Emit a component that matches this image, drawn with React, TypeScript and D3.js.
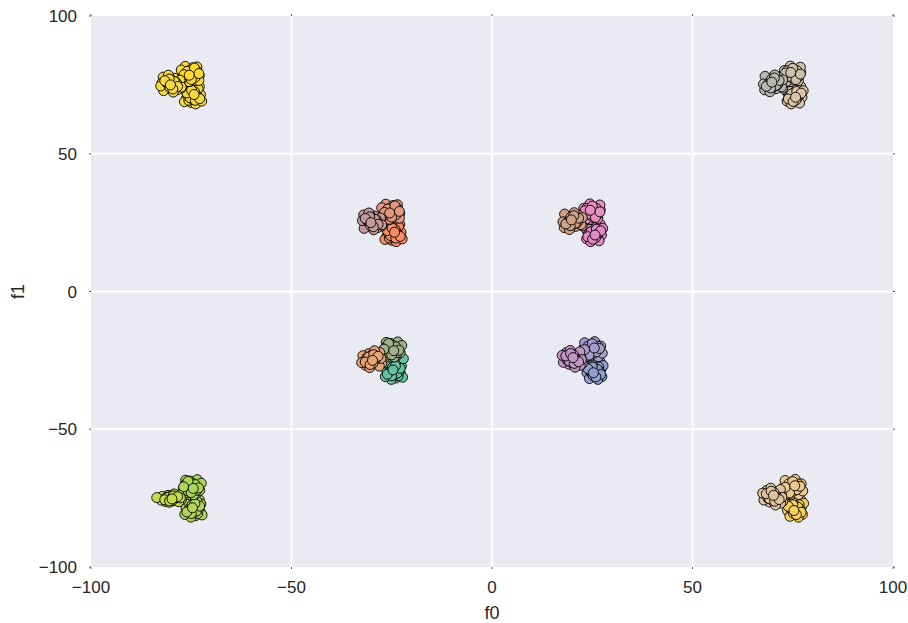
import React from "react";
import * as d3 from "d3";

type Pt = [number, number];

// Cluster (-25,-25)
const g0: Pt[] = [[-24.2,-26.0],[-25.6,-26.5],[-23.0,-25.6],
  [-24.5,-29.0],[-23.1,-27.8],[-25.8,-30.1],[-25.2,-27.2],[-22.8,-29.9],[-26.3,-28.5],[-24.0,-31.4],[-25.1,-31.9],[-22.6,-27.1],[-25.7,-26.4],[-23.6,-26.1],[-22.3,-31.1],[-26.6,-30.9],[-24.2,-28.1],[-24.9,-29.8],[-23.4,-30.6],[-22.1,-24.4],
  [-23.9,-28.4],[-25.4,-28.8],[-24.4,-30.3],[-23.2,-29.0],[-24.8,-27.5],[-25.6,-29.5],[-23.7,-29.7],[-25.0,-30.6],[-22.9,-27.9],[-26.1,-30.0],[-24.1,-27.0],[-24.7,-28.5]];
const g1: Pt[] = [[-25.4,-23.8],[-23.8,-23.4],[-26.8,-24.1],
  [-24.8,-20.7],[-26.5,-20.1],[-23.8,-22.4],[-24.2,-19.4],[-25.9,-22.7],[-23.2,-20.4],[-27.0,-21.6],[-25.3,-18.8],[-24.4,-23.8],[-22.9,-22.2],[-26.4,-18.5],[-23.5,-18.3],[-26.9,-23.4],[-25.0,-22.0],[-25.6,-19.9],[-22.5,-19.6],
  [-25.5,-20.6],[-24.1,-21.4],[-26.0,-22.2],[-24.7,-19.6],[-23.6,-22.1],[-26.4,-20.0],[-25.0,-23.0],[-24.0,-20.1],[-25.8,-18.9],[-23.2,-21.3],[-26.9,-20.9],[-24.5,-21.5]];
const g2: Pt[] = [[-27.8,-24.0],[-27.5,-26.2],
  [-30.1,-24.7],[-29.0,-23.0],[-31.7,-24.9],[-28.4,-25.3],[-30.8,-22.6],[-29.6,-26.4],[-31.5,-26.8],[-28.0,-22.2],[-32.2,-23.3],[-29.3,-21.5],[-28.1,-27.1],[-30.5,-27.6],[-27.7,-24.3],[-31.1,-23.9],[-29.1,-24.1],[-32.5,-25.8],
  [-30.6,-25.1],[-29.1,-24.7],[-30.1,-23.2],[-31.3,-24.5],[-29.7,-26.0],[-28.9,-24.0],[-30.8,-23.8],[-29.5,-22.9],[-31.6,-25.6],[-28.4,-23.5],[-30.4,-26.5],[-29.8,-25.0]];
// Cluster (-25,25)
const g3: Pt[] = [[-24.2,24.0],[-25.6,23.5],[-23.0,24.4],
  [-24.5,21.0],[-25.9,22.2],[-23.2,19.9],[-23.8,22.8],[-26.2,20.1],[-22.7,21.5],[-25.0,18.6],[-23.9,18.1],[-26.4,22.9],[-23.3,23.6],[-25.4,23.9],[-26.7,18.9],[-22.4,19.1],[-24.8,21.9],[-24.1,20.2],[-25.6,19.4],
  [-25.1,21.6],[-23.6,21.2],[-24.6,19.7],[-25.8,21.0],[-24.2,22.5],[-23.4,20.5],[-25.3,20.3],[-24.0,19.4],[-26.1,22.1],[-22.9,20.0],[-24.9,23.0],[-24.3,21.5]];
const g4: Pt[] = [[-25.4,26.2],[-23.8,26.6],[-26.8,25.9],
  [-25.2,29.3],[-23.5,29.9],[-26.2,27.6],[-25.8,30.6],[-24.1,27.3],[-26.8,29.6],[-23.0,28.4],[-24.7,31.2],[-25.6,26.2],[-27.1,27.8],[-23.6,31.5],[-26.5,31.7],[-23.1,26.6],[-25.0,28.0],[-24.4,30.1],[-27.5,30.4],
  [-24.5,29.4],[-25.9,28.6],[-24.0,27.8],[-25.3,30.4],[-26.4,27.9],[-23.6,30.0],[-25.0,27.0],[-26.0,29.9],[-24.2,31.1],[-26.8,28.7],[-23.1,29.1],[-25.5,28.5]];
const g5: Pt[] = [[-27.8,26.0],[-27.5,23.8],
  [-29.9,25.3],[-31.0,27.0],[-28.3,25.1],[-31.6,24.7],[-29.2,27.4],[-30.4,23.6],[-28.5,23.2],[-32.0,27.8],[-27.8,26.7],[-30.7,28.5],[-31.9,22.9],[-29.5,22.4],[-32.3,25.7],[-28.9,26.1],[-30.9,25.9],[-27.5,24.2],
  [-29.4,24.9],[-30.9,25.3],[-29.9,26.8],[-28.7,25.5],[-30.3,24.0],[-31.1,26.0],[-29.2,26.2],[-30.5,27.1],[-28.4,24.4],[-31.6,26.5],[-29.6,23.5],[-30.2,25.0]];
// Cluster (25,-25)
const g6: Pt[] = [[25.8,-26.0],[24.4,-26.5],[27.0,-25.6],
  [25.5,-29.0],[26.9,-30.2],[24.2,-27.9],[24.8,-30.8],[27.2,-28.1],[23.7,-29.5],[26.0,-26.6],[24.9,-26.1],[27.4,-30.9],[24.3,-31.6],[26.4,-31.9],[27.7,-26.9],[23.4,-27.1],[25.8,-29.9],[25.1,-28.2],[26.6,-27.4],
  [26.1,-29.6],[24.6,-29.2],[25.6,-27.7],[26.8,-29.0],[25.2,-30.5],[24.4,-28.5],[26.3,-28.3],[25.0,-27.4],[27.1,-30.1],[23.9,-28.0],[25.9,-31.0],[25.3,-29.5]];
const g7: Pt[] = [[24.6,-23.8],[26.2,-23.4],[23.2,-24.1],
  [25.2,-21.3],[23.5,-21.9],[26.2,-19.6],[25.8,-22.6],[24.1,-19.3],[26.8,-21.6],[23.0,-20.4],[24.7,-23.2],[25.6,-18.2],[27.1,-19.8],[23.6,-23.5],[26.5,-23.7],[23.1,-18.6],[25.0,-20.0],[24.4,-22.1],[27.5,-22.4],
  [24.5,-21.4],[25.9,-20.6],[24.0,-19.8],[25.3,-22.4],[26.4,-19.9],[23.6,-22.0],[25.0,-19.0],[26.0,-21.9],[24.2,-23.1],[26.8,-20.7],[23.1,-21.1],[25.5,-20.5]];
const g8: Pt[] = [[22.2,-24.0],[22.5,-26.2],
  [19.9,-24.3],[21.0,-26.0],[18.3,-24.1],[21.6,-23.7],[19.2,-26.4],[20.4,-22.6],[18.5,-22.2],[22.0,-26.8],[17.8,-25.7],[20.7,-27.5],[21.9,-21.9],[19.5,-21.4],[22.3,-24.7],[18.9,-25.1],[20.9,-24.9],[17.5,-23.2],
  [19.4,-23.9],[20.9,-24.3],[19.9,-25.8],[18.7,-24.5],[20.3,-23.0],[21.1,-25.0],[19.2,-25.2],[20.5,-26.1],[18.4,-23.4],[21.6,-25.5],[19.6,-22.5],[20.2,-24.0]];
// Cluster (25,25)
const g9: Pt[] = [[25.8,24.0],[24.4,23.5],[27.0,24.4],
  [25.5,21.0],[24.1,19.8],[26.8,22.1],[26.2,19.2],[23.8,21.9],[27.3,20.5],[25.0,23.4],[26.1,23.9],[23.6,19.1],[26.7,18.4],[24.6,18.1],[23.3,23.1],[27.6,22.9],[25.2,20.1],[25.9,21.8],[24.4,22.6],
  [24.9,20.4],[26.4,20.8],[25.4,22.3],[24.2,21.0],[25.8,19.5],[26.6,21.5],[24.7,21.7],[26.0,22.6],[23.9,19.9],[27.1,22.0],[25.1,19.0],[25.7,20.5]];
const g10: Pt[] = [[24.6,26.2],[26.2,26.6],[23.2,25.9],
  [24.8,28.7],[26.5,28.1],[23.8,30.4],[24.2,27.4],[25.9,30.7],[23.2,28.4],[27.0,29.6],[25.3,26.8],[24.4,31.8],[22.9,30.2],[26.4,26.5],[23.5,26.3],[26.9,31.4],[25.0,30.0],[25.6,27.9],[22.5,27.6],
  [25.5,28.6],[24.1,29.4],[26.0,30.2],[24.7,27.6],[23.6,30.1],[26.4,28.0],[25.0,31.0],[24.0,28.1],[25.8,26.9],[23.2,29.3],[26.9,28.9],[24.5,29.5]];
const g11: Pt[] = [[22.2,26.0],[22.5,23.8],
  [20.1,25.7],[19.0,24.0],[21.7,25.9],[18.4,26.3],[20.8,23.6],[19.6,27.4],[21.5,27.8],[18.0,23.2],[22.2,24.3],[19.3,22.5],[18.1,28.1],[20.5,28.6],[17.7,25.3],[21.1,24.9],[19.1,25.1],[22.5,26.8],
  [20.6,26.1],[19.1,25.7],[20.1,24.2],[21.3,25.5],[19.7,27.0],[18.9,25.0],[20.8,24.8],[19.5,23.9],[21.6,26.6],[18.4,24.5],[20.4,27.5],[19.8,26.0]];
// Cluster (-75,-75)
const g12: Pt[] = [[-74.2,-76.0],[-75.6,-76.5],[-73.0,-75.6],
  [-74.5,-79.0],[-73.1,-77.8],[-75.8,-80.1],[-75.2,-77.2],[-72.8,-79.9],[-76.3,-78.5],[-74.0,-81.4],[-75.1,-81.9],[-72.6,-77.1],[-75.7,-76.4],[-73.6,-76.1],[-72.3,-81.1],[-76.6,-80.9],[-74.2,-78.1],[-74.9,-79.8],[-73.4,-80.6],
  [-73.9,-78.4],[-75.4,-78.8],[-74.4,-80.3],[-73.2,-79.0],[-74.8,-77.5],[-75.6,-79.5],[-73.7,-79.7],[-75.0,-80.6],[-72.9,-77.9],[-76.1,-80.0],[-74.1,-77.0],[-74.7,-78.5]];
const g13: Pt[] = [[-75.4,-73.8],[-73.8,-73.4],[-76.8,-74.1],
  [-74.8,-70.7],[-76.5,-70.1],[-73.8,-72.4],[-74.2,-69.4],[-75.9,-72.7],[-73.2,-70.4],[-77.0,-71.6],[-75.3,-68.8],[-74.4,-73.8],[-72.9,-72.2],[-76.4,-68.5],[-73.5,-68.3],[-76.9,-73.4],[-75.0,-72.0],[-75.6,-69.9],[-72.5,-69.6],
  [-75.5,-70.6],[-74.1,-71.4],[-76.0,-72.2],[-74.7,-69.6],[-73.6,-72.1],[-76.4,-70.0],[-75.0,-73.0],[-74.0,-70.1],[-75.8,-68.9],[-73.2,-71.3],[-76.9,-70.9],[-74.5,-71.5]];
const g14: Pt[] = [[-77.8,-74.6],[-77.5,-75.6],
  [-80.1,-75.1],[-79.0,-74.2],[-81.7,-75.2],[-78.4,-75.4],[-80.8,-74.0],[-79.6,-76.0],[-81.5,-76.2],[-78.0,-73.9],[-82.2,-74.4],[-79.3,-73.5],[-78.1,-76.3],[-80.5,-76.5],[-77.7,-74.9],[-81.1,-74.7],[-79.1,-74.8],[-82.5,-75.7],[-83.6,-74.8],
  [-80.6,-75.3],[-79.1,-75.1],[-80.1,-74.4],[-81.3,-75.0],[-79.7,-75.8],[-78.9,-74.8],[-80.8,-74.7],[-79.5,-74.2],[-81.6,-75.6],[-78.4,-74.5],[-80.4,-76.0],[-79.8,-75.3]];
// Cluster (-75,75)
const g15: Pt[] = [[-74.2,74.0],[-75.6,73.5],[-73.0,74.4],
  [-74.5,71.0],[-75.9,72.2],[-73.2,69.9],[-73.8,72.8],[-76.2,70.1],[-72.7,71.5],[-75.0,68.6],[-73.9,68.1],[-76.4,72.9],[-73.3,73.6],[-75.4,73.9],[-76.7,68.9],[-72.4,69.1],[-74.8,71.9],[-74.1,70.2],[-75.6,69.4],
  [-75.1,71.6],[-73.6,71.2],[-74.6,69.7],[-75.8,71.0],[-74.2,72.5],[-73.4,70.5],[-75.3,70.3],[-74.0,69.4],[-76.1,72.1],[-72.9,70.0],[-74.9,73.0],[-74.3,71.5]];
const g16: Pt[] = [[-75.4,76.2],[-73.8,76.6],[-76.8,75.9],
  [-75.2,79.3],[-73.5,79.9],[-76.2,77.6],[-75.8,80.6],[-74.1,77.3],[-76.8,79.6],[-73.0,78.4],[-74.7,81.2],[-75.6,76.2],[-77.1,77.8],[-73.6,81.5],[-76.5,81.7],[-73.1,76.6],[-75.0,78.0],[-74.4,80.1],[-77.5,80.4],
  [-74.5,79.4],[-75.9,78.6],[-74.0,77.8],[-75.3,80.4],[-76.4,77.9],[-73.6,80.0],[-75.0,77.0],[-76.0,79.9],[-74.2,81.1],[-76.8,78.7],[-73.1,79.1],[-75.5,78.5]];
const g17: Pt[] = [[-77.8,76.0],[-77.5,73.8],
  [-79.9,75.3],[-81.0,77.0],[-78.3,75.1],[-81.6,74.7],[-79.2,77.4],[-80.4,73.6],[-78.5,73.2],[-82.0,77.8],[-77.8,76.7],[-80.7,78.5],[-81.9,72.9],[-79.5,72.4],[-82.3,75.7],[-78.9,76.1],[-80.9,75.9],[-77.5,74.2],[-82.6,74.6],
  [-79.4,74.9],[-80.9,75.3],[-79.9,76.8],[-78.7,75.5],[-80.3,74.0],[-81.1,76.0],[-79.2,76.2],[-80.5,77.1],[-78.4,74.4],[-81.6,76.5],[-79.6,73.5],[-80.2,75.0]];
// Cluster (75,-75)
const g18: Pt[] = [[75.8,-76.0],[74.4,-76.5],[77.0,-75.6],
  [75.5,-79.0],[76.9,-80.2],[74.2,-77.9],[74.8,-80.8],[77.2,-78.1],[73.7,-79.5],[76.0,-76.6],[74.9,-76.1],[77.4,-80.9],[74.3,-81.6],[76.4,-81.9],[77.7,-76.9],[73.4,-77.1],[75.8,-79.9],[75.1,-78.2],[76.6,-77.4],
  [76.1,-79.6],[74.6,-79.2],[75.6,-77.7],[76.8,-79.0],[75.2,-80.5],[74.4,-78.5],[76.3,-78.3],[75.0,-77.4],[77.1,-80.1],[73.9,-78.0],[75.9,-81.0],[75.3,-79.5]];
const g19: Pt[] = [[74.6,-73.8],[76.2,-73.4],[73.2,-74.1],
  [75.2,-71.3],[73.5,-71.9],[76.2,-69.6],[75.8,-72.6],[74.1,-69.3],[76.8,-71.6],[73.0,-70.4],[74.7,-73.2],[75.6,-68.2],[77.1,-69.8],[73.6,-73.5],[76.5,-73.7],[73.1,-68.6],[75.0,-70.0],[74.4,-72.1],[77.5,-72.4],
  [74.5,-71.4],[75.9,-70.6],[74.0,-69.8],[75.3,-72.4],[76.4,-69.9],[73.6,-72.0],[75.0,-69.0],[76.0,-71.9],[74.2,-73.1],[76.8,-70.7],[73.1,-71.1],[75.5,-70.5]];
const g20: Pt[] = [[72.2,-74.0],[72.5,-76.2],
  [69.9,-74.3],[71.0,-76.0],[68.3,-74.1],[71.6,-73.7],[69.2,-76.4],[70.4,-72.6],[68.5,-72.2],[72.0,-76.8],[67.8,-75.7],[70.7,-77.5],[71.9,-71.9],[69.5,-71.4],[72.3,-74.7],[68.9,-75.1],[70.9,-74.9],[67.5,-73.2],
  [69.4,-73.9],[70.9,-74.3],[69.9,-75.8],[68.7,-74.5],[70.3,-73.0],[71.1,-75.0],[69.2,-75.2],[70.5,-76.1],[68.4,-73.4],[71.6,-75.5],[69.6,-72.5],[70.2,-74.0]];
// Cluster (75,75)
const g21: Pt[] = [[75.8,74.0],[74.4,73.5],[77.0,74.4],
  [75.5,71.0],[74.1,69.8],[76.8,72.1],[76.2,69.2],[73.8,71.9],[77.3,70.5],[75.0,73.4],[76.1,73.9],[73.6,69.1],[76.7,68.4],[74.6,68.1],[73.3,73.1],[77.6,72.9],[75.2,70.1],[75.9,71.8],[74.4,72.6],
  [74.9,70.4],[76.4,70.8],[75.4,72.3],[74.2,71.0],[75.8,69.5],[76.6,71.5],[74.7,71.7],[76.0,72.6],[73.9,69.9],[77.1,72.0],[75.1,69.0],[75.7,70.5]];
const g22: Pt[] = [[74.6,76.2],[76.2,76.6],[73.2,75.9],
  [74.8,78.7],[76.5,78.1],[73.8,80.4],[74.2,77.4],[75.9,80.7],[73.2,78.4],[77.0,79.6],[75.3,76.8],[74.4,81.8],[72.9,80.2],[76.4,76.5],[73.5,76.3],[76.9,81.4],[75.0,80.0],[75.6,77.9],[72.5,77.6],
  [75.5,78.6],[74.1,79.4],[76.0,80.2],[74.7,77.6],[73.6,80.1],[76.4,78.0],[75.0,81.0],[74.0,78.1],[75.8,76.9],[73.2,79.3],[76.9,78.9],[74.5,79.5]];
const g23: Pt[] = [[72.2,76.0],[72.5,73.8],
  [70.1,75.7],[69.0,74.0],[71.7,75.9],[68.4,76.3],[70.8,73.6],[69.6,77.4],[71.5,77.8],[68.0,73.2],[72.2,74.3],[69.3,72.5],[68.1,78.1],[70.5,78.6],[67.7,75.3],[71.1,74.9],[69.1,75.1],[72.5,76.8],
  [70.6,76.1],[69.1,75.7],[70.1,74.2],[71.3,75.5],[69.7,77.0],[68.9,75.0],[70.8,74.8],[69.5,73.9],[71.6,76.6],[68.4,74.5],[70.4,77.5],[69.8,76.0]];

const groups: Pt[][] = [g0,g1,g2,g3,g4,g5,g6,g7,g8,g9,g10,g11,g12,g13,g14,g15,g16,g17,g18,g19,g20,g21,g22,g23];

// fill colour of each group
const groupColors = [
  "#66c2a5", "#a0b088", "#e3a577",
  "#f58e66", "#e3977e", "#c29a9c",
  "#8fa1cc", "#a59ccb", "#c296c2",
  "#e08bc5", "#e68fc0", "#cfa287",
  "#b4d35c", "#abd657", "#c6da4e",
  "#f2d83c", "#fdd833", "#f6d840",
  "#f6d05c", "#ecc98c", "#dfc39c",
  "#dcc5a6", "#cdc0aa", "#b9b7b3",
];

const xTicks = [-100, -50, 0, 50, 100];
const yTicks = [-100, -50, 0, 50, 100];
const xTickLabels = ["\u2212100", "\u221250", "0", "50", "100"];
const yTickLabels = ["\u2212100", "\u221250", "0", "50", "100"];
const xLabel = "f0";
const yLabel = "f1";

const W = 908, H = 623;
const left = 91, right = 893, top = 16, bottom = 567;

export default function App() {
  const x = d3.scaleLinear().domain([-100, 100]).range([left, right]);
  const y = d3.scaleLinear().domain([-100, 100]).range([bottom, top]);
  const font = "'Liberation Sans', Arial, sans-serif";
  const txt = "#262626";
  return (
    <svg width={W} height={H} style={{ position: "absolute", left: 0, top: 0 }} fontFamily={font}>
      <rect x={0} y={0} width={W} height={H} fill="#fff" />
      <rect x={left} y={top} width={right - left} height={bottom - top} fill="#EAEAF2" />
      {xTicks.slice(1, -1).map((t) => (
        <line key={"gx" + t} x1={x(t)} x2={x(t)} y1={top} y2={bottom} stroke="#fff" strokeWidth={1.8} />
      ))}
      {yTicks.slice(1, -1).map((t) => (
        <line key={"gy" + t} x1={left} x2={right} y1={y(t)} y2={y(t)} stroke="#fff" strokeWidth={1.8} />
      ))}
      {groups.map((g, gi) =>
        g.map((p, pi) => (
          <circle
            key={gi + "-" + pi}
            cx={x(p[0])}
            cy={y(p[1])}
            r={5}
            fill={groupColors[gi]}
            stroke="#000"
            strokeWidth={0.9}
          />
        ))
      )}
      {yTicks.map((t) => (
        <g key={"ty" + t}>
          <line x1={left - 2} x2={left} y1={y(t)} y2={y(t)} stroke="#555" strokeWidth={1} />
          <line x1={right} x2={right + 2} y1={y(t)} y2={y(t)} stroke="#555" strokeWidth={1} />
        </g>
      ))}
      {xTicks.map((t) => (
        <g key={"tx" + t}>
          <line x1={x(t)} x2={x(t)} y1={bottom} y2={bottom + 2} stroke="#555" strokeWidth={1} />
          <line x1={x(t)} x2={x(t)} y1={top - 2} y2={top} stroke="#555" strokeWidth={1} />
        </g>
      ))}
      {xTicks.map((t, i) => (
        <text key={"lx" + t} x={x(t)} y={593} textAnchor="middle" fontSize={17} fill={txt}>
          {xTickLabels[i]}
        </text>
      ))}
      {yTicks.map((t, i) => (
        <text key={"ly" + t} x={77} y={y(t) + 6} textAnchor="end" fontSize={17} fill={txt}>
          {yTickLabels[i]}
        </text>
      ))}
      <text x={(left + right) / 2} y={619} textAnchor="middle" fontSize={18} fill={txt}>
        {xLabel}
      </text>
      <text
        transform={`translate(24,${(top + bottom) / 2}) rotate(-90)`}
        textAnchor="middle"
        fontSize={18}
        fill={txt}
      >
        {yLabel}
      </text>
    </svg>
  );
}
